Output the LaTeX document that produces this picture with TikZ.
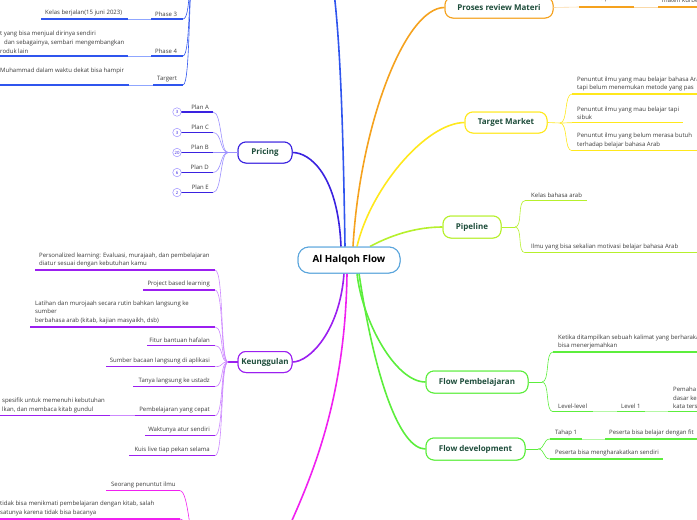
\documentclass[tikz,border=0pt]{standalone}
\usepackage{fontspec}
\setmainfont{Open Sans}
\definecolor{txtc}{HTML}{3A3A3A}
\definecolor{titlec}{HTML}{1E4D3B}
\definecolor{centc}{HTML}{5AA5DC}
\definecolor{blueA}{HTML}{2F55EE}
\definecolor{blueAl}{HTML}{8FA6FF}
\definecolor{blueB}{HTML}{3A22E0}
\definecolor{blueBl}{HTML}{9C90FF}
\definecolor{purp}{HTML}{9B1FF0}
\definecolor{purpl}{HTML}{CC88FF}
\definecolor{pink}{HTML}{F020F0}
\definecolor{pinkl}{HTML}{FF90FF}
\definecolor{orng}{HTML}{F5A21E}
\definecolor{orngl}{HTML}{FAD9A8}
\definecolor{yell}{HTML}{FFE81C}
\definecolor{yelll}{HTML}{FFF3A0}
\definecolor{lime}{HTML}{B6F02C}
\definecolor{limel}{HTML}{DCF8A8}
\definecolor{grn}{HTML}{5CEE3C}
\definecolor{grnl}{HTML}{B4F8A4}
\begin{document}
\begin{tikzpicture}[x=1pt,y=-1pt,
  txt/.style={font=\fontsize{6}{8.7}\selectfont, text=txtc, inner sep=0pt, align=left},
  topic/.style={draw, rounded corners=8pt, line width=1pt, fill=white, inner sep=0pt,
     font=\fontsize{8}{9}\selectfont\bfseries, text=titlec, minimum height=21pt},
  central/.style={draw=centc, rounded corners=11pt, line width=1pt, fill=white, inner sep=0pt,
     font=\fontsize{9.8}{11}\selectfont\bfseries, text=black, minimum width=102pt, minimum height=26pt},
  ul/.style={line width=1.1pt},
  cn/.style={line width=0.6pt},
  trunk/.style={line width=1.6pt},
  circ/.style={circle, draw=blueBl, fill=white, line width=0.5pt, minimum size=8.5pt, inner sep=0pt,
     font=\fontsize{4.3}{4.3}\selectfont, text=blueB}]
\useasboundingbox (0,0) rectangle (697,520);
\clip (0,0) rectangle (697,520);

% ---------- nodes (topics) ----------
\node[central] (c) at (349,260) {Al Halqoh Flow};
\node[topic, draw=orng, minimum width=108pt] (prm) at (499,7.5) {Proses review Materi};
\node[topic, draw=yell, minimum width=82pt] (tm) at (506,122.5) {Target Market};
\node[topic, draw=lime, minimum width=58pt, minimum height=22pt] (pl) at (472,227) {Pipeline};
\node[topic, draw=grn, minimum width=102pt, minimum height=22pt] (fp) at (477,382) {Flow Pembelajaran};
\node[topic, draw=grn, minimum width=99pt, minimum height=22pt] (fd) at (475.5,449) {Flow development};
\node[topic, draw=blueB, minimum width=54pt] (pr) at (265,152.5) {Pricing};
\node[topic, draw=purp, minimum width=54pt] (keu) at (265,362) {Keunggulan};

% hidden parents (outside the picture)
\coordinate (topP) at (330,-35);
\coordinate (topJ) at (194,-30);
\coordinate (botP) at (278,552);
\coordinate (botJ) at (196,548);

% ---------- trunks ----------
\draw[trunk, blueA] ([xshift=-4pt]c.north) .. controls (343,120) and (340,20) .. (topP);
\draw[trunk, blueB] ([xshift=-8pt]c.north) .. controls (338,175) and (310,152.5) .. (pr.east);
\draw[trunk, orng] ([xshift=4pt]c.north) .. controls (360,125) and (405,7.5) .. (prm.west);
\draw[trunk, yell] ([xshift=8pt]c.north) .. controls (370,190) and (425,123) .. (tm.west);
\draw[trunk, lime] ([xshift=21pt]c.north) .. controls (395,233) and (420,227) .. (pl.west);
\draw[trunk, purp] ([xshift=-5pt]c.south) .. controls (340,330) and (310,362) .. (keu.east);
\draw[trunk, pink] ([xshift=-2pt]c.south) .. controls (345,420) and (300,500) .. (botP);
\draw[trunk, grn] ([xshift=8pt]c.south) .. controls (362,320) and (395,382) .. (fp.west);
\draw[trunk, grn] ([xshift=10pt]c.south) .. controls (375,380) and (400,449) .. (fd.west);
% redraw central and topic nodes on top of trunks
\node[central] at (c) {Al Halqoh Flow};
\node[topic, draw=orng, minimum width=108pt] at (prm) {Proses review Materi};
\node[topic, draw=yell, minimum width=82pt] at (tm) {Target Market};
\node[topic, draw=lime, minimum width=58pt, minimum height=22pt] at (pl) {Pipeline};
\node[topic, draw=grn, minimum width=102pt, minimum height=22pt] at (fp) {Flow Pembelajaran};
\node[topic, draw=grn, minimum width=99pt, minimum height=22pt] at (fd) {Flow development};
\node[topic, draw=blueB, minimum width=54pt] at (pr) {Pricing};
\node[topic, draw=purp, minimum width=54pt] at (keu) {Keunggulan};

% ---------- blue top group ----------
\node[txt, anchor=south west] (p3) at (155,16.5) {Phase 3};
\coordinate (p3l) at (151,19); \coordinate (p3r) at (183,19);
\node[txt, anchor=south west] (kb) at (45,16.5) {Kelas berjalan(15 juni 2023)};
\coordinate (kbl) at (41,19); \coordinate (kbr) at (128,19);
\node[txt, anchor=south west] (p4) at (155,53.5) {Phase 4};
\coordinate (p4l) at (151,56); \coordinate (p4r) at (183,56);
\node[txt, anchor=south west] (p4c) at (0,53.5) {t yang bisa menjual dirinya sendiri\\\hspace*{4pt}dan sebagainya, sembari mengembangkan\\roduk lain};
\coordinate (p4cl) at (-5,56); \coordinate (p4cr) at (128,56);
\node[txt, anchor=south west] (tg) at (157,82.5) {Targert};
\coordinate (tgl) at (153,85); \coordinate (tgr) at (183,85);
\node[txt, anchor=base west] (tgc) at (0,72) {Muhammad dalam waktu dekat bisa hampir};
\coordinate (tgcl) at (-5,85); \coordinate (tgcr) at (129,85);
\foreach \a/\b in {p3l/p3r,kbl/kbr,p4l/p4r,p4cl/p4cr,tgl/tgr,tgcl/tgcr} \draw[ul, blueA] (\a) -- (\b);
\draw[cn, blueAl] (kbr) -- (p3l);
\draw[cn, blueAl] (p4cr) -- (p4l);
\draw[cn, blueAl] (tgcr) -- (tgl);
\foreach \a in {p3r,p4r,tgr} \draw[cn, blueA] (\a) .. controls +(8,0) and +(-6,0) .. (topJ);

% ---------- Pricing ----------
\coordinate (prj) at (228,152.5);
\draw[cn, blueBl] (pr.west) -- (prj);
\foreach \n/\y/\lab/\num in {pa/112/Plan A/3, pc/132.5/Plan C/3, pb/152.5/Plan B/20, pd/172.5/Plan D/6, pe/192.5/Plan E/2}{
  \coordinate (\n l) at (181,\y); \coordinate (\n r) at (213,\y);
  \draw[ul, blueB] (\n l) -- (\n r);
  \node[txt, anchor=south east] (\n t) at (209,\y-2.5) {\lab};
  \node[circ] (\n c) at (177,\y) {\num};
  \draw[cn, blueBl] (\n r) .. controls +(9,0) and +(-8,0) .. (prj);
}

% ---------- Keunggulan ----------
\coordinate (kj) at (228,362);
\draw[ul, purp] (keu.west) -- (kj);
\node[txt, anchor=south west] (k1) at (39,267.5) {Personalized learning: Evaluasi, murajaah, dan pembelajaran\\diatur sesuai dengan kebutuhan kamu};
\coordinate (k1l) at (35,270); \coordinate (k1r) at (215,270);
\node[txt, anchor=south east] (k2) at (210,287.5) {Project based learning};
\coordinate (k2l) at (143,290); \coordinate (k2r) at (215,290);
\node[txt, anchor=south west, font=\fontsize{6}{8.9}\selectfont] (k3) at (35,324.5) {Latihan dan murojaah secara rutin bahkan langsung ke\\sumber\\berbahasa arab (kitab, kajian masyaikh, dsb)};
\coordinate (k3l) at (30,327); \coordinate (k3r) at (215,327);
\node[txt, anchor=south east] (k4) at (210,343.2) {Fitur bantuan hafalan};
\coordinate (k4l) at (147,345.7); \coordinate (k4r) at (215,345.7);
\node[txt, anchor=south east] (k5) at (210,364.2) {Sumber bacaan langsung di aplikasi};
\coordinate (k5l) at (106,366.7); \coordinate (k5r) at (215,366.7);
\node[txt, anchor=south east] (k6) at (210,384.2) {Tanya langsung ke ustadz};
\coordinate (k6l) at (133,386.7); \coordinate (k6r) at (215,386.7);
\node[txt, anchor=south east] (k7) at (210,413.2) {Pembelajaran yang cepat};
\coordinate (k7l) at (135,415.7); \coordinate (k7r) at (215,415.7);
\node[txt, anchor=south west] (k7c) at (2,413.2) {spesifik untuk memenuhi kebutuhan\\lkan, dan membaca kitab gundul};
\coordinate (k7cl) at (-5,415.7); \coordinate (k7cr) at (110,415.7);
\node[txt, anchor=south east] (k8) at (210,433.2) {Waktunya atur sendiri};
\coordinate (k8l) at (145,435.7); \coordinate (k8r) at (215,435.7);
\node[txt, anchor=south east] (k9) at (210,453.2) {Kuis live tiap pekan selama};
\coordinate (k9l) at (129,455.7); \coordinate (k9r) at (215,455.7);
\foreach \n in {k1,k2,k3,k4,k5,k6,k7,k7c,k8,k9} \draw[ul, purp] (\n l) -- (\n r);
\foreach \n in {k1,k2,k3,k4,k5,k6,k7,k8,k9} \draw[cn, purpl] (\n r) .. controls +(9,0) and +(-8,0) .. (kj);
\draw[cn, purpl] (k7cr) -- (k7l);

% ---------- Pink (bottom) ----------
\node[txt, anchor=south west] (pk1) at (111,488.2) {Seorang penuntut ilmu};
\coordinate (pk1l) at (106,490.7); \coordinate (pk1r) at (180,490.7);
\node[txt, anchor=south west, font=\fontsize{6}{9.4}\selectfont] (pk2) at (0,516.5) {tidak bisa menikmati pembelajaran dengan kitab, salah\\satunya karena tidak bisa bacanya};
\coordinate (pk2l) at (-5,519); \coordinate (pk2r) at (180,519);
\draw[ul, pink] (pk1l) -- (pk1r);
\draw[ul, pink] (pk2l) -- (pk2r);
\draw[cn, pink] (pk1r) .. controls +(9,0) and +(-6,0) .. (botJ);
\draw[cn, pink] (pk2r) .. controls +(9,0) and +(-6,0) .. (botJ);

% ---------- Orange ----------
\node[txt, anchor=south west] (o1) at (583,2.5) {Penulis pertama};
\coordinate (o1l) at (579,7); \coordinate (o1r) at (634,7);
\node[txt, anchor=south west] (o2) at (662,2.5) {materi kurbe};
\coordinate (o2l) at (658,7); \coordinate (o2r) at (702,7);
\draw[ul, orng] (o1l) -- (o1r);
\draw[ul, orng] (o2l) -- (o2r);
\draw[cn, orngl] (prm.east) -- (o1l);
\draw[cn, orngl] (o1r) -- (o2l);

% ---------- Target Market ----------
\coordinate (tj) at (560,123);
\draw[cn, yell] (tm.east) -- (tj);
\node[txt, anchor=south west] (t1) at (577,91.5) {Penuntut ilmu yang mau belajar bahasa Ara\\tapi belum menemukan metode yang pas};
\coordinate (t1l) at (572,94); \coordinate (t1r) at (702,94);
\node[txt, anchor=south west] (t2) at (577,120.2) {Penuntut ilmu yang mau belajar tapi\\sibuk};
\coordinate (t2l) at (572,122.7); \coordinate (t2r) at (683,122.7);
\node[txt, anchor=south west] (t3) at (577,148.2) {Penuntut ilmu yang belum merasa butuh\\terhadap belajar bahasa Arab};
\coordinate (t3l) at (572,150.7); \coordinate (t3r) at (702,150.7);
\foreach \n in {t1,t2,t3}{
  \draw[ul, yell] (\n l) -- (\n r);
  \draw[cn, yell] (tj) .. controls +(8,0) and +(-8,0) .. (\n l);
}

% ---------- Pipeline ----------
\coordinate (plj) at (515,227);
\draw[cn, lime] (pl.east) -- (plj);
\node[txt, anchor=south west] (l1) at (531,198.2) {Kelas bahasa arab};
\coordinate (l1l) at (525,200.7); \coordinate (l1r) at (587,200.7);
\node[txt, anchor=south west] (l2) at (531,250.2) {Ilmu yang bisa sekalian motivasi belajar bahasa Arab};
\coordinate (l2l) at (525,252.7); \coordinate (l2r) at (702,252.7);
\foreach \n in {l1,l2}{
  \draw[ul, lime] (\n l) -- (\n r);
  \draw[cn, lime] (plj) .. controls +(8,0) and +(-8,0) .. (\n l);
}

% ---------- Flow Pembelajaran ----------
\coordinate (fpj) at (542,382);
\draw[cn, grn] (fp.east) -- (fpj);
\node[txt, anchor=south west] (f1) at (558,349.5) {Ketika ditampilkan sebuah kalimat yang berharaka\\bisa menerjemahkan};
\coordinate (f1l) at (553,352); \coordinate (f1r) at (702,352);
\node[txt, anchor=south west] (f2) at (558,409.2) {Level-level};
\coordinate (f2l) at (553,411.7); \coordinate (f2r) at (593,411.7);
\node[txt, anchor=south west] (f3) at (621,409.2) {Level 1};
\coordinate (f3l) at (617,411.7); \coordinate (f3r) at (645,411.7);
\node[txt, anchor=south west] (f4) at (673,409.2) {Pemaha\\dasar ke\\kata ters};
\coordinate (f4l) at (668,411.7); \coordinate (f4r) at (702,411.7);
\foreach \n in {f1,f2,f3,f4} \draw[ul, grn] (\n l) -- (\n r);
\draw[cn, grn] (fpj) .. controls +(8,0) and +(-8,0) .. (f1l);
\draw[cn, grn] (fpj) .. controls +(8,0) and +(-8,0) .. (f2l);
\draw[cn, grnl] (f2r) -- (f3l);
\draw[cn, grnl] (f3r) -- (f4l);

% ---------- Flow development ----------
\coordinate (fdj) at (538,449);
\draw[cn, grn] (fd.east) -- (fdj);
\node[txt, anchor=south west] (d1) at (555,436.5) {Tahap 1};
\coordinate (d1l) at (550,439); \coordinate (d1r) at (582,439);
\node[txt, anchor=south west] (d2) at (609,436.5) {Peserta bisa belajar dengan fit};
\coordinate (d2l) at (605,439); \coordinate (d2r) at (702,439);
\node[txt, anchor=south west] (d3) at (555,456.5) {Peserta bisa mengharakatkan sendiri};
\coordinate (d3l) at (550,459); \coordinate (d3r) at (663,459);
\foreach \n in {d1,d2,d3} \draw[ul, grn] (\n l) -- (\n r);
\draw[cn, grn] (fdj) .. controls +(7,0) and +(-7,0) .. (d1l);
\draw[cn, grn] (fdj) .. controls +(7,0) and +(-7,0) .. (d3l);
\draw[cn, grnl] (d1r) -- (d2l);
\end{tikzpicture}
\end{document}
